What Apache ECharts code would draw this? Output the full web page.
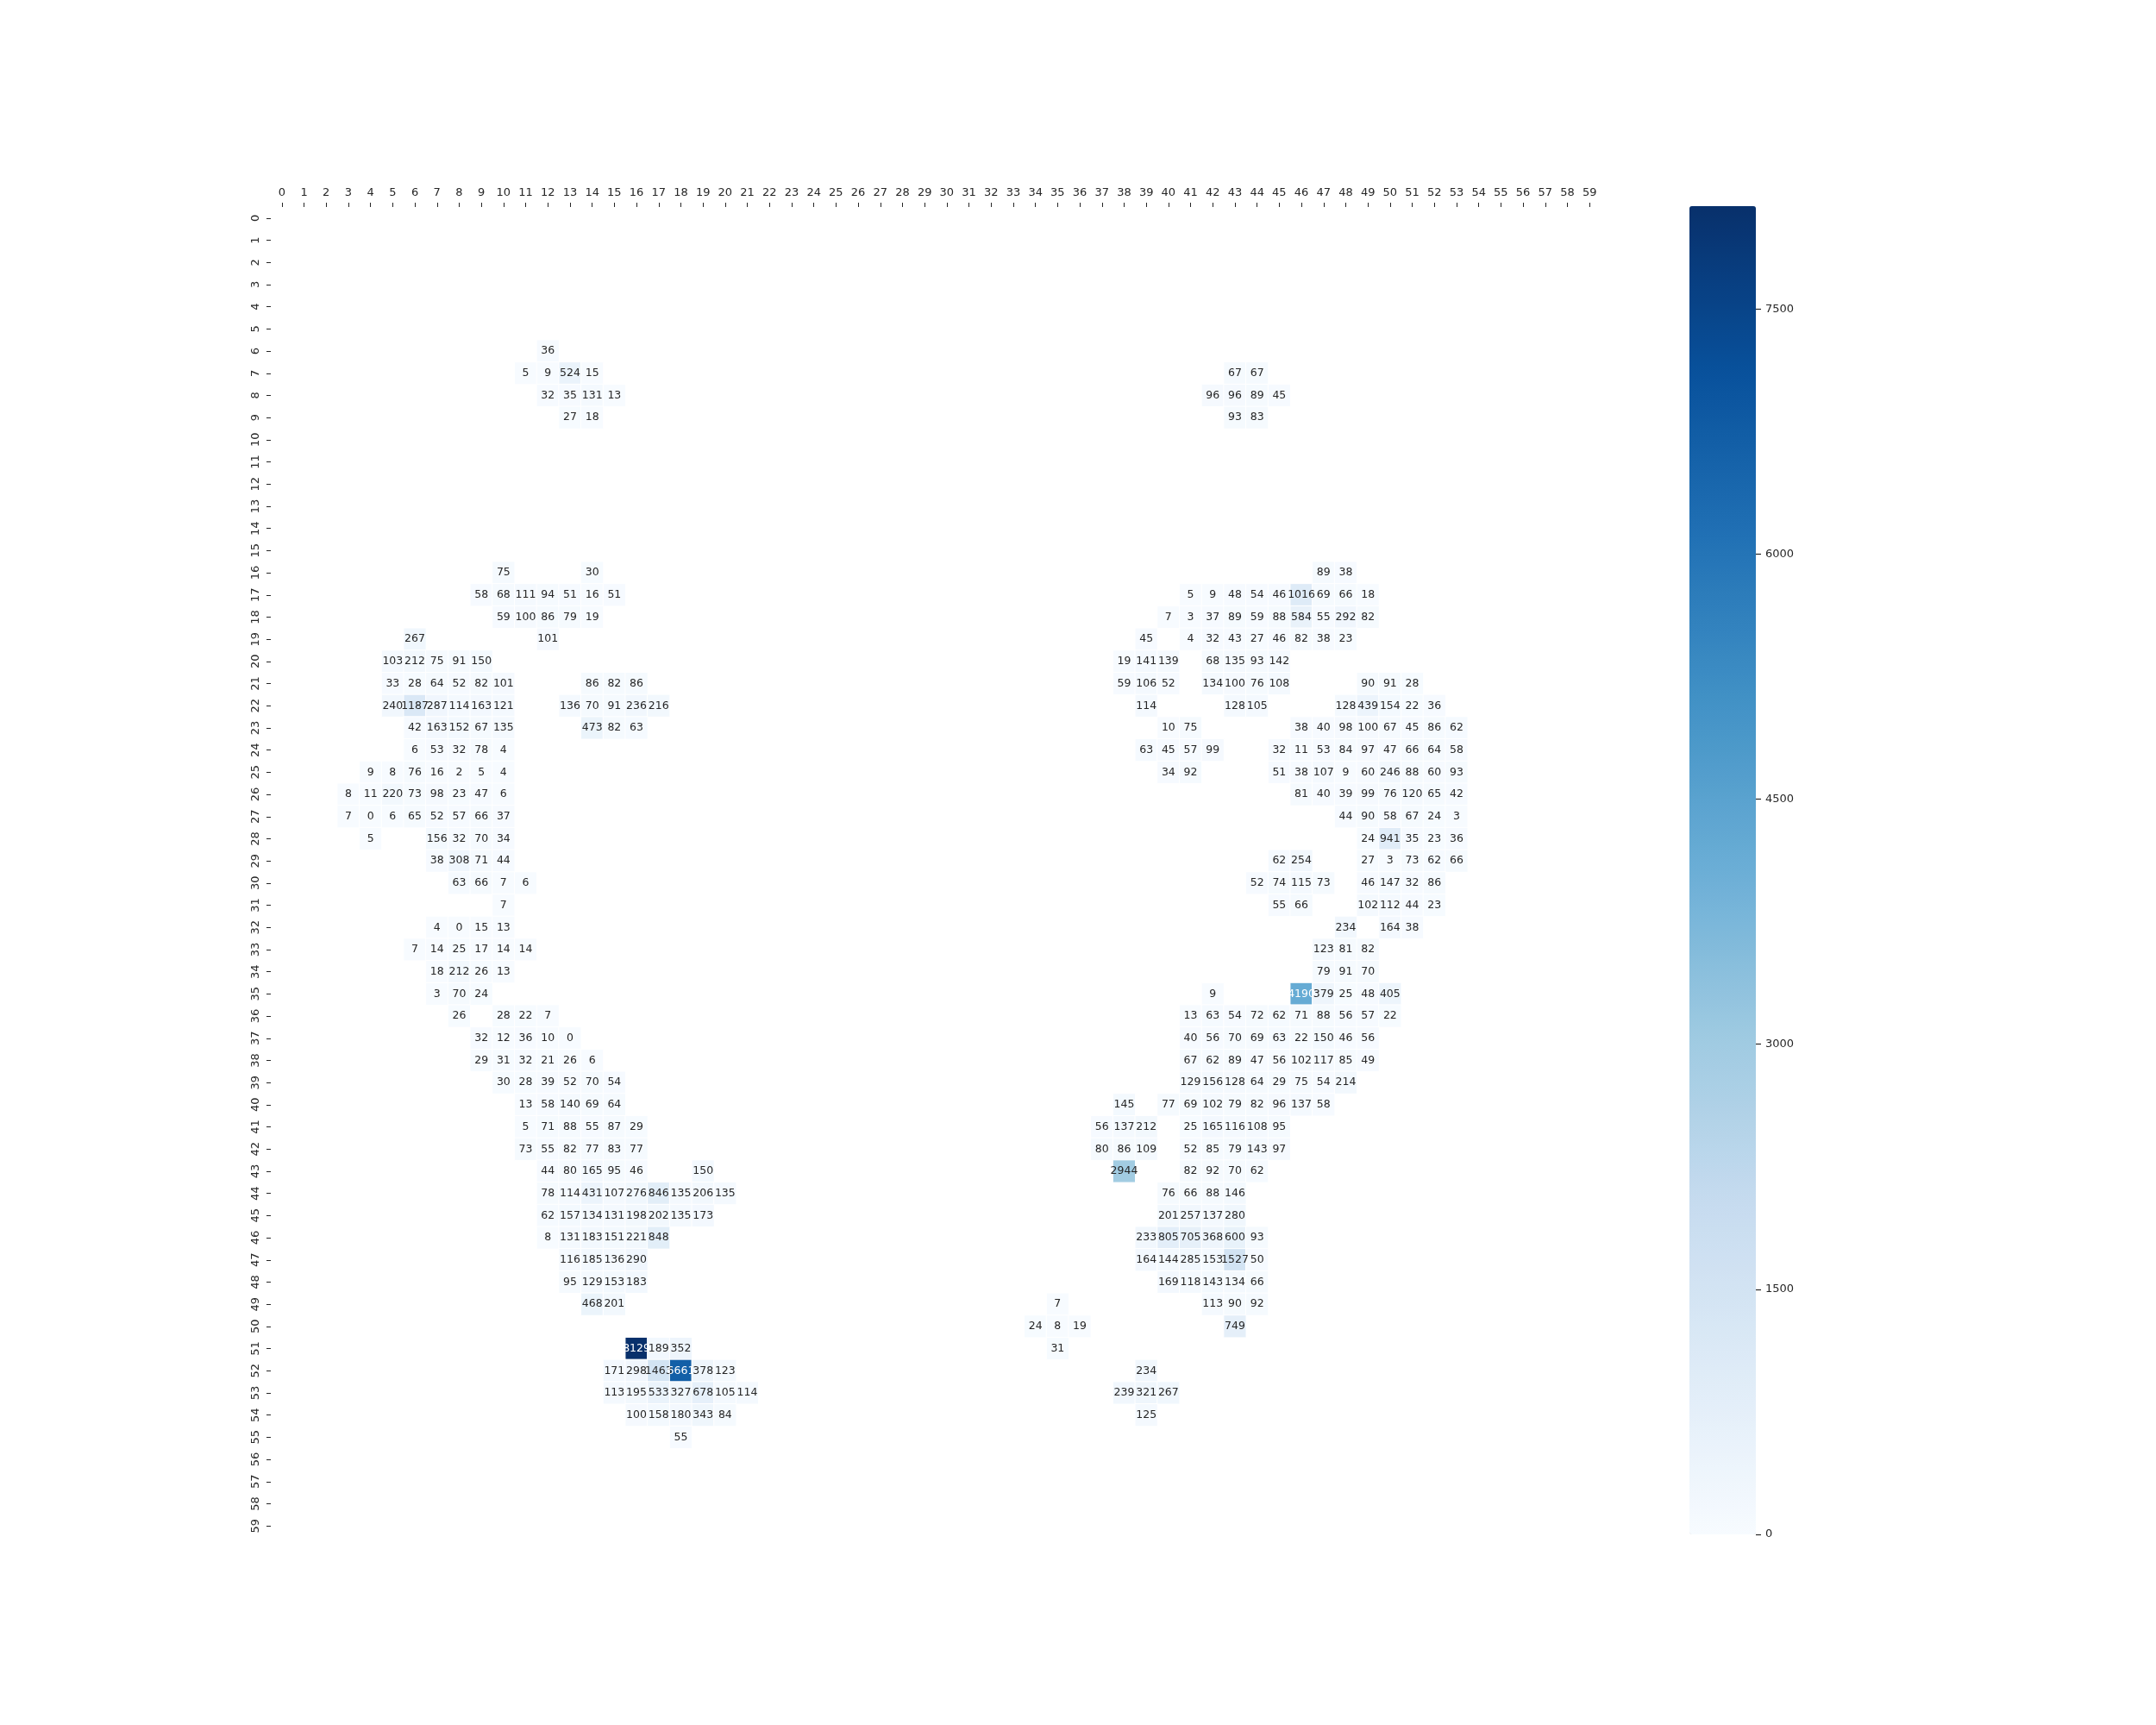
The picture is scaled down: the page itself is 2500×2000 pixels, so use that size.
<!DOCTYPE html>
<html>
<head>
<meta charset="utf-8">
<script src="https://cdn.jsdelivr.net/npm/echarts@6/dist/echarts.min.js"></script>
<style>
html,body{margin:0;padding:0;background:#fff;}
#chart{width:2500px;height:2000px;}
</style>
</head>
<body>
<div id="chart"></div>
<script>
// Axis categories
const xCats = Array.from({length: 60}, (_, i) => String(i));
const yCats = Array.from({length: 60}, (_, i) => String(i));
const colorbarStep = 1500;
const valueMin = 0;
const valueMax = 8129;

// Cells as [column, row, value]
const leftUpper = [
  [12,6,36],
  [11,7,5],[12,7,9],[13,7,524],[14,7,15],
  [12,8,32],[13,8,35],[14,8,131],[15,8,13],
  [13,9,27],[14,9,18],
  [10,16,75],[14,16,30],
  [9,17,58],[10,17,68],[11,17,111],[12,17,94],[13,17,51],[14,17,16],[15,17,51],
  [10,18,59],[11,18,100],[12,18,86],[13,18,79],[14,18,19],
  [6,19,267],[12,19,101],
  [5,20,103],[6,20,212],[7,20,75],[8,20,91],[9,20,150],
  [5,21,33],[6,21,28],[7,21,64],[8,21,52],[9,21,82],[10,21,101],[14,21,86],[15,21,82],[16,21,86],
  [5,22,240],[6,22,1187],[7,22,287],[8,22,114],[9,22,163],[10,22,121],[13,22,136],[14,22,70],[15,22,91],[16,22,236],[17,22,216],
  [6,23,42],[7,23,163],[8,23,152],[9,23,67],[10,23,135],[14,23,473],[15,23,82],[16,23,63],
  [6,24,6],[7,24,53],[8,24,32],[9,24,78],[10,24,4],
  [4,25,9],[5,25,8],[6,25,76],[7,25,16],[8,25,2],[9,25,5],[10,25,4],
  [3,26,8],[4,26,11],[5,26,220],[6,26,73],[7,26,98],[8,26,23],[9,26,47],[10,26,6],
  [3,27,7],[4,27,0],[5,27,6],[6,27,65],[7,27,52],[8,27,57],[9,27,66],[10,27,37],
  [4,28,5],[7,28,156],[8,28,32],[9,28,70],[10,28,34],
  [7,29,38],[8,29,308],[9,29,71],[10,29,44],
  [8,30,63],[9,30,66],[10,30,7],[11,30,6],
  [10,31,7],
  [7,32,4],[8,32,0],[9,32,15],[10,32,13],
  [6,33,7],[7,33,14],[8,33,25],[9,33,17],[10,33,14],[11,33,14],
  [7,34,18],[8,34,212],[9,34,26],[10,34,13],
  [7,35,3],[8,35,70],[9,35,24]
];
const leftLower = [
  [8,36,26],[10,36,28],[11,36,22],[12,36,7],
  [9,37,32],[10,37,12],[11,37,36],[12,37,10],[13,37,0],
  [9,38,29],[10,38,31],[11,38,32],[12,38,21],[13,38,26],[14,38,6],
  [10,39,30],[11,39,28],[12,39,39],[13,39,52],[14,39,70],[15,39,54],
  [11,40,13],[12,40,58],[13,40,140],[14,40,69],[15,40,64],
  [11,41,5],[12,41,71],[13,41,88],[14,41,55],[15,41,87],[16,41,29],
  [11,42,73],[12,42,55],[13,42,82],[14,42,77],[15,42,83],[16,42,77],
  [12,43,44],[13,43,80],[14,43,165],[15,43,95],[16,43,46],[19,43,150],
  [12,44,78],[13,44,114],[14,44,431],[15,44,107],[16,44,276],[17,44,846],[18,44,135],[19,44,206],[20,44,135],
  [12,45,62],[13,45,157],[14,45,134],[15,45,131],[16,45,198],[17,45,202],[18,45,135],[19,45,173],
  [12,46,8],[13,46,131],[14,46,183],[15,46,151],[16,46,221],[17,46,848],
  [13,47,116],[14,47,185],[15,47,136],[16,47,290],
  [13,48,95],[14,48,129],[15,48,153],[16,48,183],
  [14,49,468],[15,49,201],
  [16,51,8129],[17,51,189],[18,51,352],
  [15,52,171],[16,52,298],[17,52,1463],[18,52,6661],[19,52,378],[20,52,123],
  [15,53,113],[16,53,195],[17,53,533],[18,53,327],[19,53,678],[20,53,105],[21,53,114],
  [16,54,100],[17,54,158],[18,54,180],[19,54,343],[20,54,84],
  [18,55,55]
];
const rightUpper = [
  [43,7,67],[44,7,67],
  [42,8,96],[43,8,96],[44,8,89],[45,8,45],
  [43,9,93],[44,9,83],
  [47,16,89],[48,16,38],
  [41,17,5],[42,17,9],[43,17,48],[44,17,54],[45,17,46],[46,17,1016],[47,17,69],[48,17,66],[49,17,18],
  [40,18,7],[41,18,3],[42,18,37],[43,18,89],[44,18,59],[45,18,88],[46,18,584],[47,18,55],[48,18,292],[49,18,82],
  [39,19,45],[41,19,4],[42,19,32],[43,19,43],[44,19,27],[45,19,46],[46,19,82],[47,19,38],[48,19,23],
  [38,20,19],[39,20,141],[40,20,139],[42,20,68],[43,20,135],[44,20,93],[45,20,142],
  [38,21,59],[39,21,106],[40,21,52],[42,21,134],[43,21,100],[44,21,76],[45,21,108],[49,21,90],[50,21,91],[51,21,28],
  [39,22,114],[43,22,128],[44,22,105],[48,22,128],[49,22,439],[50,22,154],[51,22,22],[52,22,36],
  [40,23,10],[41,23,75],[46,23,38],[47,23,40],[48,23,98],[49,23,100],[50,23,67],[51,23,45],[52,23,86],[53,23,62],
  [39,24,63],[40,24,45],[41,24,57],[42,24,99],[45,24,32],[46,24,11],[47,24,53],[48,24,84],[49,24,97],[50,24,47],[51,24,66],[52,24,64],[53,24,58],
  [40,25,34],[41,25,92],[45,25,51],[46,25,38],[47,25,107],[48,25,9],[49,25,60],[50,25,246],[51,25,88],[52,25,60],[53,25,93],
  [46,26,81],[47,26,40],[48,26,39],[49,26,99],[50,26,76],[51,26,120],[52,26,65],[53,26,42],
  [48,27,44],[49,27,90],[50,27,58],[51,27,67],[52,27,24],[53,27,3],
  [49,28,24],[50,28,941],[51,28,35],[52,28,23],[53,28,36],
  [45,29,62],[46,29,254],[49,29,27],[50,29,3],[51,29,73],[52,29,62],[53,29,66],
  [44,30,52],[45,30,74],[46,30,115],[47,30,73],[49,30,46],[50,30,147],[51,30,32],[52,30,86],
  [45,31,55],[46,31,66],[49,31,102],[50,31,112],[51,31,44],[52,31,23],
  [48,32,234],[50,32,164],[51,32,38],
  [47,33,123],[48,33,81],[49,33,82],
  [47,34,79],[48,34,91],[49,34,70]
];
const rightLower = [
  [42,35,9],[46,35,4190],[47,35,379],[48,35,25],[49,35,48],[50,35,405],
  [41,36,13],[42,36,63],[43,36,54],[44,36,72],[45,36,62],[46,36,71],[47,36,88],[48,36,56],[49,36,57],[50,36,22],
  [41,37,40],[42,37,56],[43,37,70],[44,37,69],[45,37,63],[46,37,22],[47,37,150],[48,37,46],[49,37,56],
  [41,38,67],[42,38,62],[43,38,89],[44,38,47],[45,38,56],[46,38,102],[47,38,117],[48,38,85],[49,38,49],
  [41,39,129],[42,39,156],[43,39,128],[44,39,64],[45,39,29],[46,39,75],[47,39,54],[48,39,214],
  [38,40,145],[40,40,77],[41,40,69],[42,40,102],[43,40,79],[44,40,82],[45,40,96],[46,40,137],[47,40,58],
  [37,41,56],[38,41,137],[39,41,212],[41,41,25],[42,41,165],[43,41,116],[44,41,108],[45,41,95],
  [37,42,80],[38,42,86],[39,42,109],[41,42,52],[42,42,85],[43,42,79],[44,42,143],[45,42,97],
  [38,43,2944],[41,43,82],[42,43,92],[43,43,70],[44,43,62],
  [40,44,76],[41,44,66],[42,44,88],[43,44,146],
  [40,45,201],[41,45,257],[42,45,137],[43,45,280],
  [39,46,233],[40,46,805],[41,46,705],[42,46,368],[43,46,600],[44,46,93],
  [39,47,164],[40,47,144],[41,47,285],[42,47,153],[43,47,1527],[44,47,50],
  [40,48,169],[41,48,118],[42,48,143],[43,48,134],[44,48,66],
  [35,49,7],[42,49,113],[43,49,90],[44,49,92],
  [34,50,24],[35,50,8],[36,50,19],[43,50,749],
  [35,51,31],
  [39,52,234],
  [38,53,239],[39,53,321],[40,53,267],
  [39,54,125]
];

const blues = ['#f7fbff','#deebf7','#c6dbef','#9ecae1','#6baed6','#4292c6','#2171b5','#08519c','#08306b'];
const FONT = 'DejaVu Sans';
const allCells = [].concat(leftUpper, leftLower, rightUpper, rightLower);
const heatData = allCells.map(function (c) {
  return {
    value: c,
    label: { color: c[2] > 3500 ? '#ffffff' : '#262626' }
  };
});

const chart = echarts.init(document.getElementById('chart'), null, {renderer: 'canvas'});
chart.setOption({
  animation: false,
  backgroundColor: '#ffffff',
  textStyle: { fontFamily: FONT },
  grid: [
    { left: 314, top: 240, width: 1542, height: 1542, containLabel: false },
    { left: 2036, top: 239, width: 20, height: 1540, show: false }
  ],
  xAxis: [
    {
      type: 'category', data: xCats, position: 'top', gridIndex: 0,
      axisLine: { show: false },
      axisTick: { show: true, alignWithLabel: true, length: 5, lineStyle: { color: '#262626', width: 1 } },
      axisLabel: { interval: 0, fontSize: 13, color: '#262626', margin: 10, fontFamily: FONT },
      splitLine: { show: false }
    },
    {
      type: 'value', gridIndex: 1, min: 0, max: 1, show: false
    }
  ],
  yAxis: [
    {
      type: 'category', data: yCats, inverse: true, gridIndex: 0,
      axisLine: { show: false },
      axisTick: { show: true, alignWithLabel: true, length: 5, lineStyle: { color: '#262626', width: 1 } },
      axisLabel: { interval: 0, rotate: 90, fontSize: 13, color: '#262626', margin: 11, fontFamily: FONT },
      splitLine: { show: false }
    },
    {
      type: 'value', gridIndex: 1, min: valueMin, max: valueMax, interval: colorbarStep, position: 'left',
      z: 10,
      axisLine: { show: false },
      axisTick: { show: true, inside: true, length: 6, lineStyle: { color: '#262626', width: 1.2 } },
      axisLabel: {
        inside: true, fontSize: 13, color: '#262626', margin: 11, fontFamily: FONT, showMaxLabel: false,
        formatter: function (v) { return String(v); }
      },
      splitLine: { show: false }
    }
  ],
  visualMap: {
    type: 'continuous',
    seriesIndex: 0,
    min: valueMin, max: valueMax,
    calculable: false,
    hoverLink: false,
    orient: 'vertical',
    left: 1959, top: 239,
    itemWidth: 77, itemHeight: 1540,
    padding: 0,
    indicatorSize: 0,
    handleSize: 0,
    showLabel: false,
    inRange: { color: blues }
  },
  series: [{
    type: 'heatmap',
    xAxisIndex: 0, yAxisIndex: 0,
    data: heatData,
    progressive: 0,
    itemStyle: { borderColor: '#ffffff', borderWidth: 1 },
    label: {
      show: true,
      fontSize: 12.5,
      fontFamily: FONT,
      formatter: function (p) { return String(p.value[2]); }
    },
    emphasis: { disabled: true }
  }]
});
</script>
</body>
</html>
